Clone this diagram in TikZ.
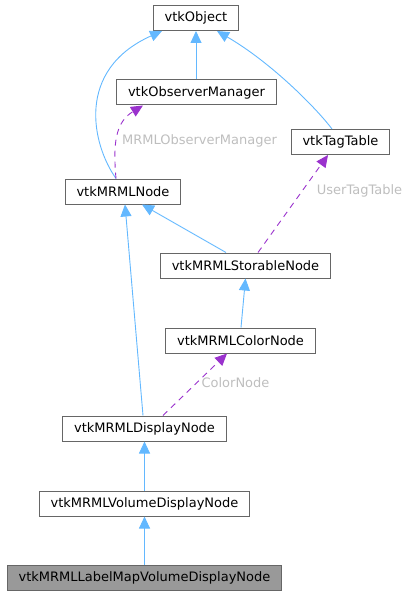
\documentclass[tikz,border=0pt]{standalone}
\usepackage{fontspec}
\setmainfont{DejaVu Sans}
\usepackage{tikz}
\usetikzlibrary{arrows.meta}

\definecolor{boxgray}{HTML}{666666}
\definecolor{boxfill}{HTML}{999999}
\definecolor{inheritblue}{HTML}{63B8FF}
\definecolor{usagepurple}{HTML}{9A32CD}
\definecolor{lblgray}{HTML}{BEBEBE}

\begin{document}
\begin{tikzpicture}[x=1pt,y=-1pt,line width=0.9pt,-{Triangle[length=12pt,width=11pt]},
    font=\fontsize{13}{15}\selectfont]

  \tikzstyle{classnode}=[draw=boxgray,fill=white,shape=rectangle,line width=1pt,inner xsep=11.5pt,minimum height=25pt]
  \tikzstyle{basenode}=[classnode,fill=boxfill]
  \tikzstyle{inheritedge}=[color=inheritblue]
  \tikzstyle{usageedge}=[color=usagepurple,dash pattern=on 6pt off 5pt]
  \tikzstyle{edgelabel}=[text=lblgray,inner sep=0pt]

  \useasboundingbox (0,0) rectangle (409,596);

  \node[classnode] (vtkobject)  at (196,18)    {vtkObject};
  \node[classnode] (observer)   at (196.5,92.5) {vtkObserverManager};
  \node[classnode] (tagtable)   at (340.5,142) {vtkTagTable};
  \node[classnode] (mrmlnode)   at (123,191.5) {vtkMRMLNode};
  \node[classnode] (storable)   at (245.5,265.5) {vtkMRMLStorableNode};
  \node[classnode] (colornode)  at (240.5,340.5) {vtkMRMLColorNode};
  \node[classnode] (display)    at (144.5,428.5) {vtkMRMLDisplayNode};
  \node[classnode] (volume)     at (144.5,503.5) {vtkMRMLVolumeDisplayNode};
  \node[basenode]  (labelmap)   at (144.5,578) {vtkMRMLLabelMapVolumeDisplayNode};

  \node[edgelabel] (lblobserver) at (199.5,141) {MRMLObserverManager};
  \node[edgelabel] (lbltag)      at (359.5,191) {UserTagTable};
  \node[edgelabel] (lblcolor)    at (235.5,383) {ColorNode};

  \path[inheritedge] ([xshift=-.5pt]observer.north)    edge (vtkobject.south)
                     ([xshift=-19.5pt]storable.north)  edge ([xshift=19pt]mrmlnode.south)
                     ([xshift=-1.5pt]display.north)    edge ([xshift=2pt]mrmlnode.south)
                     ([xshift=.5pt]colornode.north)    edge (storable.south)
                     (volume.north)                    edge (display.south)
                     (labelmap.north)                  edge (volume.south);

  \draw[inheritedge] ([xshift=-7pt]mrmlnode.north) .. controls +(-24,-34) and +(-87,39) .. ([xshift=-34pt]vtkobject.south);
  \draw[inheritedge] ([xshift=-8.5pt]tagtable.north) .. controls +(-15,-20) and +(55,32) .. ([xshift=21pt]vtkobject.south);

  \draw[usageedge] ([xshift=-7pt]mrmlnode.north) .. controls +(-3,-34) and +(-28,17) .. ([xshift=-53.5pt]observer.south);
  \path[usageedge] ([xshift=12.5pt]storable.north) edge ([xshift=-12.5pt]tagtable.south)
                   ([xshift=18.5pt]display.north)  edge ([xshift=-13.5pt]colornode.south);
\end{tikzpicture}
\end{document}
